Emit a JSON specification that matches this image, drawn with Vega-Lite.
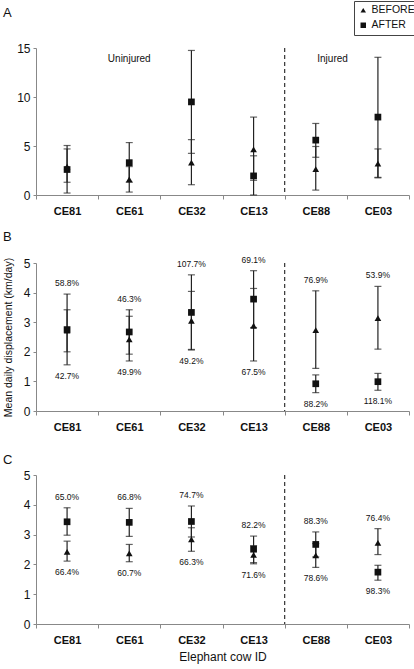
{
  "$schema": "https://vega.github.io/schema/vega-lite/v6.json",
  "padding": {"left": 3, "top": 0, "right": 0, "bottom": 2},
  "spacing": 14,
  "datasets": {
    "A": [
      {"cow": "CE81", "period": "BEFORE", "mean": 2.9, "lo": 1.3, "hi": 4.7},
      {"cow": "CE81", "period": "AFTER", "mean": 2.6, "lo": 0.2, "hi": 5.05},
      {"cow": "CE61", "period": "BEFORE", "mean": 1.6, "lo": 0.3, "hi": 2.9},
      {"cow": "CE61", "period": "AFTER", "mean": 3.3, "lo": 1.3, "hi": 5.35},
      {"cow": "CE32", "period": "BEFORE", "mean": 3.3, "lo": 1.05, "hi": 5.65},
      {"cow": "CE32", "period": "AFTER", "mean": 9.5, "lo": 4.25, "hi": 14.75},
      {"cow": "CE13", "period": "BEFORE", "mean": 4.65, "lo": 1.5, "hi": 7.95},
      {"cow": "CE13", "period": "AFTER", "mean": 1.95, "lo": 0.0, "hi": 4.0},
      {"cow": "CE88", "period": "BEFORE", "mean": 2.65, "lo": 0.5, "hi": 4.95},
      {"cow": "CE88", "period": "AFTER", "mean": 5.6, "lo": 3.85, "hi": 7.3},
      {"cow": "CE03", "period": "BEFORE", "mean": 3.2, "lo": 1.75, "hi": 4.7},
      {"cow": "CE03", "period": "AFTER", "mean": 7.95, "lo": 1.8, "hi": 14.05}
    ],
    "B": [
      {"cow": "CE81", "period": "BEFORE", "mean": 2.72, "lo": 2.0, "hi": 3.42, "cv": "42.7%"},
      {"cow": "CE81", "period": "AFTER", "mean": 2.75, "lo": 1.56, "hi": 3.95, "cv": "58.8%"},
      {"cow": "CE61", "period": "BEFORE", "mean": 2.42, "lo": 1.69, "hi": 3.2, "cv": "49.9%"},
      {"cow": "CE61", "period": "AFTER", "mean": 2.67, "lo": 1.92, "hi": 3.42, "cv": "46.3%"},
      {"cow": "CE32", "period": "BEFORE", "mean": 3.05, "lo": 2.08, "hi": 4.04, "cv": "49.2%"},
      {"cow": "CE32", "period": "AFTER", "mean": 3.33, "lo": 2.06, "hi": 4.6, "cv": "107.7%"},
      {"cow": "CE13", "period": "BEFORE", "mean": 2.88, "lo": 1.69, "hi": 4.14, "cv": "67.5%"},
      {"cow": "CE13", "period": "AFTER", "mean": 3.78, "lo": 2.82, "hi": 4.74, "cv": "69.1%"},
      {"cow": "CE88", "period": "BEFORE", "mean": 2.73, "lo": 1.44, "hi": 4.06, "cv": "76.9%"},
      {"cow": "CE88", "period": "AFTER", "mean": 0.92, "lo": 0.62, "hi": 1.22, "cv": "88.2%"},
      {"cow": "CE03", "period": "BEFORE", "mean": 3.14, "lo": 2.09, "hi": 4.21, "cv": "53.9%"},
      {"cow": "CE03", "period": "AFTER", "mean": 0.99, "lo": 0.7, "hi": 1.27, "cv": "118.1%"}
    ],
    "C": [
      {"cow": "CE81", "period": "BEFORE", "mean": 2.42, "lo": 2.11, "hi": 2.78, "cv": "66.4%"},
      {"cow": "CE81", "period": "AFTER", "mean": 3.43, "lo": 2.98, "hi": 3.9, "cv": "65.0%"},
      {"cow": "CE61", "period": "BEFORE", "mean": 2.37, "lo": 2.09, "hi": 2.67, "cv": "60.7%"},
      {"cow": "CE61", "period": "AFTER", "mean": 3.41, "lo": 2.94, "hi": 3.88, "cv": "66.8%"},
      {"cow": "CE32", "period": "BEFORE", "mean": 2.84, "lo": 2.44, "hi": 3.23, "cv": "66.3%"},
      {"cow": "CE32", "period": "AFTER", "mean": 3.44, "lo": 2.92, "hi": 3.96, "cv": "74.7%"},
      {"cow": "CE13", "period": "BEFORE", "mean": 2.32, "lo": 2.02, "hi": 2.63, "cv": "71.6%"},
      {"cow": "CE13", "period": "AFTER", "mean": 2.51, "lo": 2.06, "hi": 2.95, "cv": "82.2%"},
      {"cow": "CE88", "period": "BEFORE", "mean": 2.3, "lo": 1.9, "hi": 2.7, "cv": "78.6%"},
      {"cow": "CE88", "period": "AFTER", "mean": 2.67, "lo": 2.25, "hi": 3.09, "cv": "88.3%"},
      {"cow": "CE03", "period": "BEFORE", "mean": 2.72, "lo": 2.33, "hi": 3.2, "cv": "76.4%"},
      {"cow": "CE03", "period": "AFTER", "mean": 1.74, "lo": 1.47, "hi": 1.97, "cv": "98.3%"}
    ]
  },
  "vconcat": [
    {
      "title": {"text": "A", "anchor": "start", "frame": "group", "dx": -33, "offset": 22},
      "width": 373,
      "height": 147,
      "data": {"name": "A"},
      "encoding": {
        "x": {"field": "cow", "type": "nominal", "sort": ["CE81", "CE61", "CE32", "CE13", "CE88", "CE03"], "scale": {"paddingInner": 0, "paddingOuter": 0}, "title": null}
      },
      "layer": [
        {
          "data": {"values": [{}]},
          "mark": {"type": "rule", "strokeDash": [4, 3], "color": "#333", "strokeWidth": 1.2},
          "encoding": {"x": {"datum": "CE88", "bandPosition": 0}}
        },
        {
          "data": {"values": [{}]},
          "mark": {"type": "text", "fontSize": 10, "color": "#111"},
          "encoding": {"x": {"datum": "CE61", "bandPosition": 0.5}, "y": {"datum": 13.9, "type": "quantitative", "axis": {"values": [0, 5, 10, 15], "labelOverlap": false}, "title": null}, "text": {"value": "Uninjured"}}
        },
        {
          "data": {"values": [{}]},
          "mark": {"type": "text", "fontSize": 10, "color": "#111"},
          "encoding": {"x": {"datum": "CE88", "bandPosition": 0.77}, "y": {"datum": 13.9, "type": "quantitative", "axis": {"values": [0, 5, 10, 15], "labelOverlap": false}, "title": null}, "text": {"value": "Injured"}}
        },
        {
          "mark": {"type": "rule", "color": "#222", "strokeWidth": 1.2},
          "encoding": {"y": {"field": "lo", "type": "quantitative", "scale": {"domain": [0, 15], "nice": false}, "axis": {"values": [0, 5, 10, 15], "labelOverlap": false}, "title": null}, "y2": {"field": "hi"}}
        },
        {"mark": {"type": "tick", "color": "#222", "size": 7, "thickness": 1.2}, "encoding": {"y": {"field": "lo", "type": "quantitative", "axis": {"values": [0, 5, 10, 15], "labelOverlap": false}, "title": null}}},
        {"mark": {"type": "tick", "color": "#222", "size": 7, "thickness": 1.2}, "encoding": {"y": {"field": "hi", "type": "quantitative", "axis": {"values": [0, 5, 10, 15], "labelOverlap": false}, "title": null}}},
        {
          "mark": {"type": "point", "filled": true, "opacity": 1, "size": 45, "color": "#111"},
          "encoding": {
            "y": {"field": "mean", "type": "quantitative", "axis": {"values": [0, 5, 10, 15], "labelOverlap": false}, "title": null},
            "shape": {"field": "period", "type": "nominal", "scale": {"domain": ["BEFORE", "AFTER"], "range": ["triangle-up", "square"]}}
          }
        }
      ]
    },
    {
      "title": {"text": "B", "anchor": "start", "frame": "group", "dx": -33, "offset": 12},
      "width": 373,
      "height": 148,
      "data": {"name": "B"},
      "encoding": {
        "x": {"field": "cow", "type": "nominal", "sort": ["CE81", "CE61", "CE32", "CE13", "CE88", "CE03"], "scale": {"paddingInner": 0, "paddingOuter": 0}, "title": " ", "axis": {"titleFontSize": 5, "titlePadding": 3}}
      },
      "layer": [
        {
          "data": {"values": [{}]},
          "mark": {"type": "rule", "strokeDash": [4, 3], "color": "#333", "strokeWidth": 1.2},
          "encoding": {"x": {"datum": "CE88", "bandPosition": 0}}
        },
        {
          "mark": {"type": "rule", "color": "#222", "strokeWidth": 1.2},
          "encoding": {"y": {"field": "lo", "type": "quantitative", "scale": {"domain": [0, 5], "nice": false}, "axis": {"values": [0, 1, 2, 3, 4, 5], "labelOverlap": false}, "title": "Mean daily displacement (km/day)"}, "y2": {"field": "hi"}}
        },
        {"mark": {"type": "tick", "color": "#222", "size": 7, "thickness": 1.2}, "encoding": {"y": {"field": "lo", "type": "quantitative", "axis": {"values": [0, 1, 2, 3, 4, 5], "labelOverlap": false}, "title": "Mean daily displacement (km/day)"}}},
        {"mark": {"type": "tick", "color": "#222", "size": 7, "thickness": 1.2}, "encoding": {"y": {"field": "hi", "type": "quantitative", "axis": {"values": [0, 1, 2, 3, 4, 5], "labelOverlap": false}, "title": "Mean daily displacement (km/day)"}}},
        {
          "mark": {"type": "point", "filled": true, "opacity": 1, "size": 45, "color": "#111"},
          "encoding": {
            "y": {"field": "mean", "type": "quantitative", "axis": {"values": [0, 1, 2, 3, 4, 5], "labelOverlap": false}, "title": "Mean daily displacement (km/day)"},
            "shape": {"field": "period", "type": "nominal", "scale": {"domain": ["BEFORE", "AFTER"], "range": ["triangle-up", "square"]}}
          }
        },
        {
          "transform": [
            {"joinaggregate": [{"op": "max", "field": "hi", "as": "tophi"}, {"op": "min", "field": "lo", "as": "botlo"}, {"op": "max", "field": "mean", "as": "maxmean"}], "groupby": ["cow"]},
            {"filter": "datum.mean === datum.maxmean"}
          ],
          "mark": {"type": "text", "dy": -11, "fontSize": 8.5, "color": "#111"},
          "encoding": {"y": {"field": "tophi", "type": "quantitative", "axis": {"values": [0, 1, 2, 3, 4, 5], "labelOverlap": false}, "title": "Mean daily displacement (km/day)"}, "text": {"field": "cv"}}
        },
        {
          "transform": [
            {"joinaggregate": [{"op": "max", "field": "hi", "as": "tophi"}, {"op": "min", "field": "lo", "as": "botlo"}, {"op": "max", "field": "mean", "as": "maxmean"}], "groupby": ["cow"]},
            {"filter": "datum.mean < datum.maxmean"}
          ],
          "mark": {"type": "text", "dy": 11, "fontSize": 8.5, "color": "#111"},
          "encoding": {"y": {"field": "botlo", "type": "quantitative", "axis": {"values": [0, 1, 2, 3, 4, 5], "labelOverlap": false}, "title": "Mean daily displacement (km/day)"}, "text": {"field": "cv"}}
        }
      ]
    },
    {
      "title": {"text": "C", "anchor": "start", "frame": "group", "dx": -33, "offset": 2},
      "width": 373,
      "height": 149,
      "data": {"name": "C"},
      "encoding": {
        "x": {"field": "cow", "type": "nominal", "sort": ["CE81", "CE61", "CE32", "CE13", "CE88", "CE03"], "scale": {"paddingInner": 0, "paddingOuter": 0}, "title": "Elephant cow ID", "axis": {"titleFontSize": 12, "titleFontWeight": "normal", "titlePadding": 6}}
      },
      "layer": [
        {
          "data": {"values": [{}]},
          "mark": {"type": "rule", "strokeDash": [4, 3], "color": "#333", "strokeWidth": 1.2},
          "encoding": {"x": {"datum": "CE88", "bandPosition": 0}}
        },
        {
          "mark": {"type": "rule", "color": "#222", "strokeWidth": 1.2},
          "encoding": {"y": {"field": "lo", "type": "quantitative", "scale": {"domain": [0, 5], "nice": false}, "axis": {"values": [0, 1, 2, 3, 4, 5], "labelOverlap": false}, "title": null}, "y2": {"field": "hi"}}
        },
        {"mark": {"type": "tick", "color": "#222", "size": 7, "thickness": 1.2}, "encoding": {"y": {"field": "lo", "type": "quantitative", "axis": {"values": [0, 1, 2, 3, 4, 5], "labelOverlap": false}, "title": null}}},
        {"mark": {"type": "tick", "color": "#222", "size": 7, "thickness": 1.2}, "encoding": {"y": {"field": "hi", "type": "quantitative", "axis": {"values": [0, 1, 2, 3, 4, 5], "labelOverlap": false}, "title": null}}},
        {
          "mark": {"type": "point", "filled": true, "opacity": 1, "size": 45, "color": "#111"},
          "encoding": {
            "y": {"field": "mean", "type": "quantitative", "axis": {"values": [0, 1, 2, 3, 4, 5], "labelOverlap": false}, "title": null},
            "shape": {"field": "period", "type": "nominal", "scale": {"domain": ["BEFORE", "AFTER"], "range": ["triangle-up", "square"]}}
          }
        },
        {
          "transform": [
            {"joinaggregate": [{"op": "max", "field": "hi", "as": "tophi"}, {"op": "min", "field": "lo", "as": "botlo"}, {"op": "max", "field": "mean", "as": "maxmean"}], "groupby": ["cow"]},
            {"filter": "datum.mean === datum.maxmean"}
          ],
          "mark": {"type": "text", "dy": -11, "fontSize": 8.5, "color": "#111"},
          "encoding": {"y": {"field": "tophi", "type": "quantitative", "axis": {"values": [0, 1, 2, 3, 4, 5], "labelOverlap": false}, "title": null}, "text": {"field": "cv"}}
        },
        {
          "transform": [
            {"joinaggregate": [{"op": "max", "field": "hi", "as": "tophi"}, {"op": "min", "field": "lo", "as": "botlo"}, {"op": "max", "field": "mean", "as": "maxmean"}], "groupby": ["cow"]},
            {"filter": "datum.mean < datum.maxmean"}
          ],
          "mark": {"type": "text", "dy": 11, "fontSize": 8.5, "color": "#111"},
          "encoding": {"y": {"field": "botlo", "type": "quantitative", "axis": {"values": [0, 1, 2, 3, 4, 5], "labelOverlap": false}, "title": null}, "text": {"field": "cv"}}
        }
      ]
    }
  ],
  "config": {
    "font": "Liberation Sans",
    "view": {"stroke": null},
    "title": {"fontSize": 13, "fontWeight": "normal", "color": "#111", "font": "Liberation Sans"},
    "axis": {"domainColor": "#888", "tickColor": "#888", "labelColor": "#111", "titleColor": "#111", "grid": false, "labelFont": "Liberation Sans", "titleFont": "Liberation Sans", "labelOverlap": false},
    "axisX": {"labelFontSize": 11, "labelFontWeight": "bold", "tickSize": 4, "labelPadding": 6, "labelAngle": 0, "tickBand": "extent"},
    "axisY": {"labelFontSize": 12, "tickSize": 3, "labelPadding": 3, "titleFontSize": 10.5, "titleFontWeight": "normal", "titlePadding": 10},
    "legend": {"orient": "none", "legendX": 318, "legendY": -47, "title": null, "strokeColor": "#444", "padding": 4, "labelFontSize": 10.5, "symbolSize": 30, "rowPadding": 3, "labelOffset": 3, "symbolFillColor": "#111", "symbolStrokeColor": "#111", "labelColor": "#111", "labelFont": "Liberation Sans"}
  }
}
